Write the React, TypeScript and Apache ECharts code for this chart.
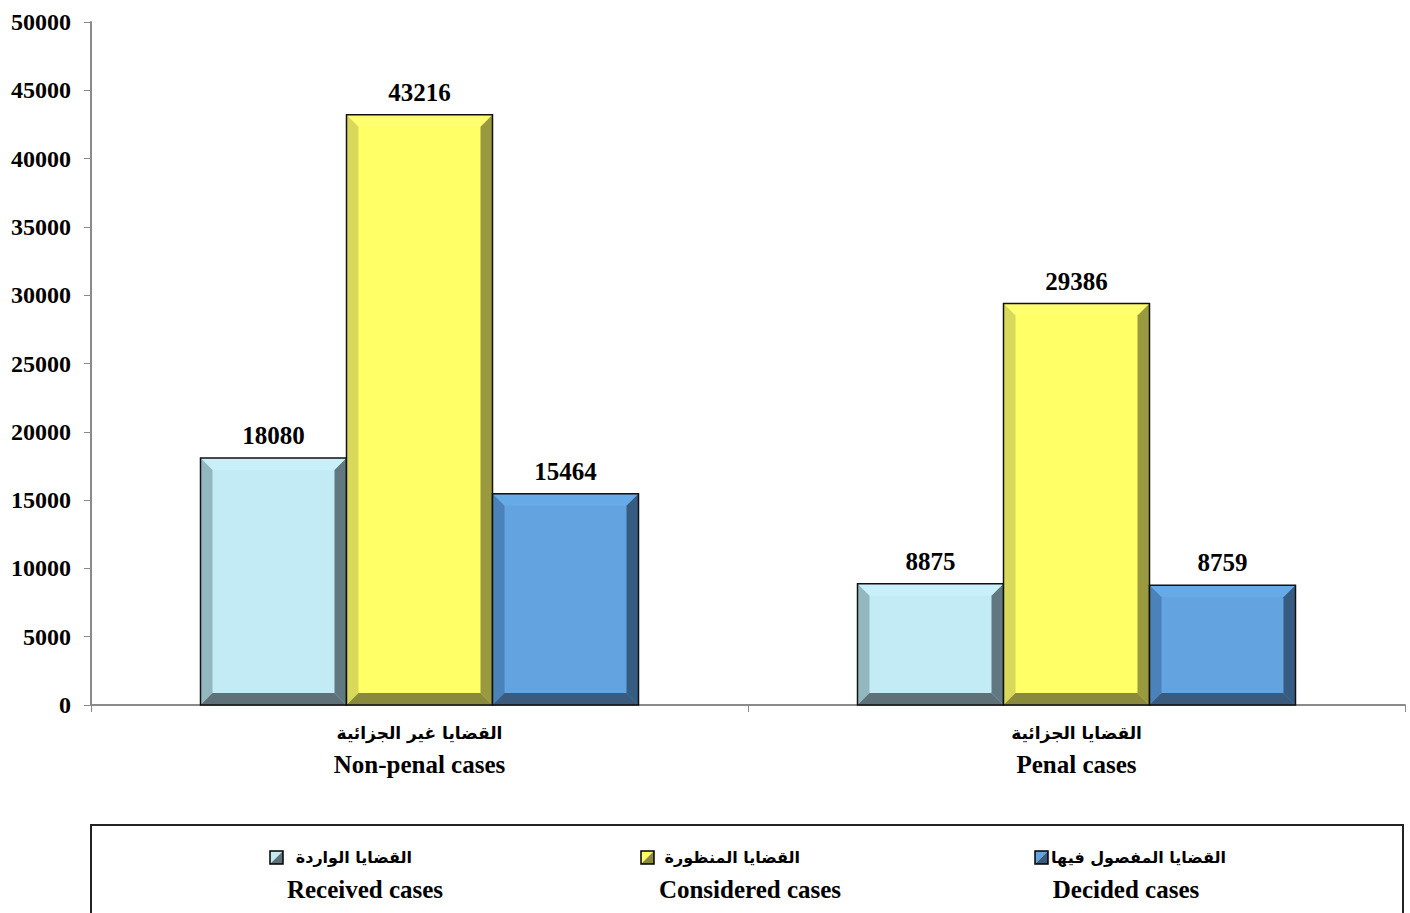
import React, { useEffect, useRef } from "react";
import * as echarts from "echarts";

const categoriesAr = ["القضايا غير الجزائية", "القضايا الجزائية"];
const categoriesEn = ["Non-penal cases", "Penal cases"];
const seriesNamesAr = ["القضايا الواردة", "القضايا المنظورة", "القضايا المفصول فيها"];
const seriesNamesEn = ["Received cases", "Considered cases", "Decided cases"];
const receivedValues = [18080, 8875];
const consideredValues = [43216, 29386];
const decidedValues = [15464, 8759];
const yTicks = { min: 0, max: 50000, interval: 5000 };

const palettes = [
  { face: "#C3EBF5", top: "#C8F0FA", left: "#93B7BF", right: "#627880", bottom: "#5E7078", light: "#C3EBF5", dark: "#5E7078" },
  { face: "#FFFF66", top: "#FFFF70", left: "#D8D85A", right: "#999940", bottom: "#8A8A3C", light: "#FFFF66", dark: "#8A8A3C" },
  { face: "#63A4E0", top: "#66AAE8", left: "#4B82BA", right: "#375C82", bottom: "#3A5A7E", light: "#63A4E0", dark: "#3A5A7E" },
];

const BAR_FRAC = 146 / 657;
const BEVEL = 12;
const SERIF = '"Liberation Serif", "Times New Roman", serif';
const ARABIC = '"DejaVu Sans", sans-serif';

function makeRenderItem(sIdx: number) {
  const pal = palettes[sIdx];
  const offset = sIdx - 1;
  return (params: any, api: any) => {
    const ci = api.value(0);
    const v = api.value(1);
    const p = api.coord([ci, v]);
    const p0 = api.coord([ci, 0]);
    const band = api.size([1, 0])[0];
    const bw = band * BAR_FRAC;
    const l = p[0] + (offset - 0.5) * bw;
    const r = l + bw;
    const t = p[1];
    const b = p0[1];
    const h = b - t;
    const bv = Math.min(BEVEL, h / 2, bw / 2);
    return {
      type: "group",
      children: [
        { type: "rect", shape: { x: l, y: t, width: bw, height: h }, style: { fill: pal.face } },
        { type: "polygon", shape: { points: [[l, t], [r, t], [r - bv, t + bv], [l + bv, t + bv]] }, style: { fill: pal.top } },
        { type: "polygon", shape: { points: [[l, t], [l + bv, t + bv], [l + bv, b - bv], [l, b]] }, style: { fill: pal.left } },
        { type: "polygon", shape: { points: [[r, t], [r, b], [r - bv, b - bv], [r - bv, t + bv]] }, style: { fill: pal.right } },
        { type: "polygon", shape: { points: [[l, b], [l + bv, b - bv], [r - bv, b - bv], [r, b]] }, style: { fill: pal.bottom } },
        { type: "rect", shape: { x: l, y: t, width: bw, height: h }, style: { fill: "none", stroke: "#111", lineWidth: 1.5 } },
        {
          type: "text",
          style: {
            text: String(v),
            x: (l + r) / 2,
            y: t - 10,
            align: "center",
            verticalAlign: "bottom",
            fontFamily: SERIF,
            fontWeight: "bold",
            fontSize: 25,
            fill: "#000",
          },
        },
      ],
    };
  };
}

const allValues = [receivedValues, consideredValues, decidedValues];

function legendGraphics() {
  const items = [
    { iconX: 270, arRight: 412, enX: 365 },
    { iconX: 641, arRight: 800, enX: 750 },
    { iconX: 1035, arRight: 1226, enX: 1126 },
  ];
  const els: any[] = [
    { type: "rect", shape: { x: 91, y: 825, width: 1312, height: 110 }, style: { fill: "#fff", stroke: "#222", lineWidth: 2 }, z: 0 },
  ];
  items.forEach((it, i) => {
    const pal = palettes[i];
    const s = 13;
    const x = it.iconX, y = 851;
    els.push({ type: "polygon", shape: { points: [[x, y], [x + s, y], [x, y + s]] }, style: { fill: pal.light }, z: 2 });
    els.push({ type: "polygon", shape: { points: [[x + s, y], [x + s, y + s], [x, y + s]] }, style: { fill: pal.dark }, z: 2 });
    els.push({ type: "rect", shape: { x, y, width: s, height: s }, style: { fill: "none", stroke: "#000", lineWidth: 1.5 }, z: 3 });
    els.push({
      type: "text",
      style: { text: seriesNamesAr[i], x: it.arRight, y: 857, align: "right", verticalAlign: "middle", fontFamily: ARABIC, fontWeight: "bold", fontSize: 16, fill: "#000" },
      z: 3,
    });
    els.push({
      type: "text",
      style: { text: seriesNamesEn[i], x: it.enX, y: 889, align: "center", verticalAlign: "middle", fontFamily: SERIF, fontWeight: "bold", fontSize: 25, fill: "#000" },
      z: 3,
    });
  });
  return els;
}

export default function App() {
  const ref = useRef<HTMLDivElement>(null);
  useEffect(() => {
    if (!ref.current) return;
    const chart = echarts.init(ref.current, undefined, { renderer: "svg" });
    chart.setOption({
      animation: false,
      backgroundColor: "#fff",
      grid: { left: 91, right: 5, top: 22, bottom: 208, containLabel: false },
      xAxis: {
        type: "category",
        data: categoriesEn,
        boundaryGap: true,
        axisLine: { lineStyle: { color: "#8a8a8a", width: 2 } },
        axisTick: { show: true, alignWithLabel: false, length: 7, lineStyle: { color: "#8a8a8a", width: 1 } },
        axisLabel: {
          interval: 0,
          margin: 13,
          formatter: (val: string, idx: number) => `{ar|${categoriesAr[idx]}}\n{en|${categoriesEn[idx]}}`,
          rich: {
            ar: { fontFamily: ARABIC, fontWeight: "bold", fontSize: 17, color: "#000", lineHeight: 30 },
            en: { fontFamily: SERIF, fontWeight: "bold", fontSize: 25, color: "#000", lineHeight: 32 },
          },
        },
        splitLine: { show: false },
      },
      yAxis: {
        type: "value",
        min: yTicks.min,
        max: yTicks.max,
        interval: yTicks.interval,
        axisLine: { show: true, lineStyle: { color: "#8a8a8a", width: 2 } },
        axisTick: { show: true, length: 7, lineStyle: { color: "#8a8a8a", width: 1 } },
        splitLine: { show: false },
        axisLabel: {
          margin: 20,
          fontFamily: SERIF,
          fontWeight: "bold",
          fontSize: 24,
          color: "#000",
          formatter: (v: number) => String(v),
        },
      },
      series: allValues.map((vals, sIdx) => ({
        type: "custom",
        name: seriesNamesEn[sIdx],
        renderItem: makeRenderItem(sIdx),
        encode: { x: 0, y: 1 },
        data: vals.map((v, i) => [i, v]),
        clip: false,
        z: 3,
      })),
      graphic: legendGraphics(),
    });
    return () => chart.dispose();
  }, []);
  return <div ref={ref} style={{ width: 1410, height: 913, position: "absolute", left: 0, top: 0 }} />;
}
